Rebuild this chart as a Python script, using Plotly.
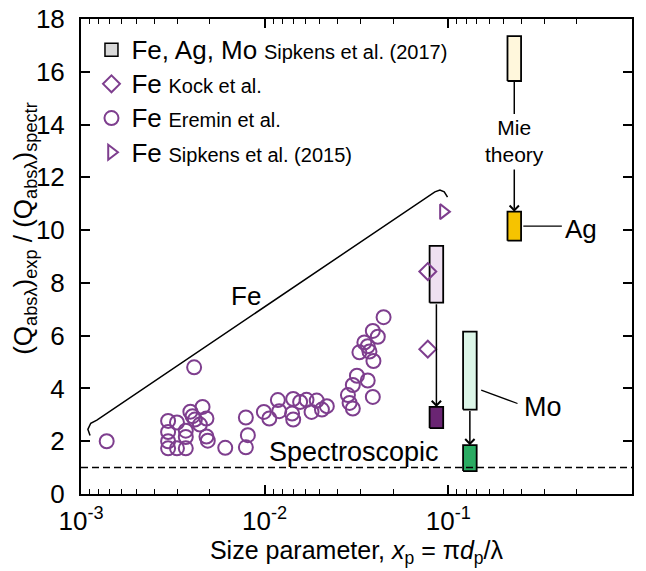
import math
import plotly.graph_objects as go

FONT = "Arial, Liberation Sans, sans-serif"
PURPLE = "#7e3e8e"

# ---------------- data ----------------
# Eremin et al. (Fe), open circles
eremin_x = [0.00138, 0.00413,
            0.00298, 0.00298, 0.00298, 0.00298,
            0.00333, 0.00333,
            0.00372, 0.00372, 0.00372,
            0.00394, 0.00405, 0.00417,
            0.00459, 0.00444,
            0.00482, 0.00482, 0.00490,
            0.0061,
            0.0079, 0.0081, 0.0079,
            0.0099, 0.0106, 0.0118, 0.0120,
            0.0143, 0.0141, 0.0143,
            0.0156, 0.0169, 0.0180, 0.0192,
            0.0205, 0.0218,
            0.0284, 0.0290, 0.0302, 0.0302, 0.0318,
            0.0364, 0.0388, 0.0328, 0.0349, 0.0372,
            0.0364, 0.0388, 0.0413, 0.0391, 0.0444]
eremin_y = [2.00, 4.80,
            2.77, 2.35, 2.00, 1.73,
            2.71, 1.73,
            2.40, 2.16, 1.73,
            3.12, 2.95, 2.82,
            3.30, 2.63,
            2.86, 2.18, 2.02,
            1.75,
            2.90, 2.23, 1.77,
            3.11, 2.86, 3.56, 3.14,
            3.60, 3.05, 2.82,
            3.49, 3.57, 3.11, 3.54,
            3.20, 3.33,
            3.75, 3.45, 3.24, 4.13, 4.48,
            4.30, 3.68, 5.37, 5.74, 5.40,
            5.60, 6.18, 5.96, 5.04, 6.70]

# Kock et al. (Fe), open diamonds
kock_x = [0.0773, 0.0773]
kock_y = [8.43, 5.49]

# Sipkens et al. (2015) (Fe), open triangle
sip15_x = [0.094]
sip15_y = [10.70]

# Sipkens et al. (2017): experimental (light) and Mie theory (dark) ranges
materials = ["Fe", "Mo", "Ag"]
sip17_x = [0.0861, 0.131, 0.2286]
exp_lo = [7.25, 3.20, 15.65]
exp_hi = [9.40, 6.15, 17.35]
mie_lo = [2.50, 0.87, 9.60]
mie_hi = [3.30, 1.85, 10.70]
light_colors = ["#efe0f1", "#dcf6e8", "#fff7dc"]
dark_colors = ["#6a2573", "#2aab62", "#f6c300"]

spectroscopic = 1.0

# Fe bracket (annotation line)
bracket_x = [0.00112, 0.00109, 0.00113, 0.00122, 0.0845, 0.0900, 0.0950, 0.0990]
bracket_y = [2.22, 2.45, 2.68, 2.80, 11.45, 11.52, 11.45, 11.25]

x_tickvals = [0.001, 0.01, 0.1, 1]
x_ticktext = ["10<sup>-3</sup>", "10<sup>-2</sup>", "10<sup>-1</sup>", "10<sup>0</sup>"]
minor_divisors = [9, 8, 7, 6, 5, 4, 3, 2]
y_tickvals = [0, 2, 4, 6, 8, 10, 12, 14, 16, 18]

BIG = "<span style='font-size:26px'>%s</span>"
SMALL = "<span style='font-size:20px'>%s</span>"

# ---------------- figure ----------------
fig = go.Figure()

# legend-only entry for Sipkens 2017
fig.add_trace(go.Scatter(
    x=[None], y=[None], mode="markers",
    marker=dict(symbol="square", size=13, color="#d9d9d9",
                line=dict(color="black", width=1.5)),
    name=BIG % "Fe, Ag, Mo" + " " + SMALL % "Sipkens et al. (2017)"))

HALF = 10 ** 0.037


def box(xc, lo, hi, color):
    xs = [xc / HALF, xc * HALF, xc * HALF, xc / HALF, xc / HALF]
    ys = [lo, lo, hi, hi, lo]
    return go.Scatter(x=xs, y=ys, mode="lines", fill="toself", fillcolor=color,
                      line=dict(color="black", width=1.8), showlegend=False,
                      hoverinfo="skip")


for i in range(len(materials)):
    fig.add_trace(box(sip17_x[i], exp_lo[i], exp_hi[i], light_colors[i]))
    fig.add_trace(box(sip17_x[i], mie_lo[i], mie_hi[i], dark_colors[i]))

# Fe bracket
fig.add_trace(go.Scatter(x=bracket_x, y=bracket_y, mode="lines",
                         line=dict(color="black", width=1.5), showlegend=False,
                         hoverinfo="skip"))

# connector lines
ag_i = materials.index("Ag")
mo_i = materials.index("Mo")
fig.add_trace(go.Scatter(x=[sip17_x[ag_i], sip17_x[ag_i]], y=[exp_lo[ag_i], 14.4],
                         mode="lines", line=dict(color="black", width=1.5),
                         showlegend=False, hoverinfo="skip"))
fig.add_trace(go.Scatter(x=[0.256, 0.415], y=[10.15, 10.15], mode="lines",
                         line=dict(color="black", width=1.3), showlegend=False,
                         hoverinfo="skip"))
fig.add_trace(go.Scatter(x=[0.151, 0.238], y=[3.94, 3.43], mode="lines",
                         line=dict(color="black", width=1.3), showlegend=False,
                         hoverinfo="skip"))

fig.add_trace(go.Scatter(
    x=kock_x, y=kock_y, mode="markers", name=BIG % "Fe" + " " + SMALL % "Kock et al.",
    marker=dict(symbol="diamond-open", size=13, color=PURPLE, line=dict(width=2, color=PURPLE))))
fig.add_trace(go.Scatter(
    x=eremin_x, y=eremin_y, mode="markers", name=BIG % "Fe" + " " + SMALL % "Eremin et al.",
    marker=dict(symbol="circle-open", size=14, color=PURPLE, line=dict(width=2, color=PURPLE))))
fig.add_trace(go.Scatter(
    x=sip15_x, y=sip15_y, mode="markers",
    name=BIG % "Fe" + " " + SMALL % "Sipkens et al. (2015)",
    marker=dict(symbol="triangle-right-open", size=13, color=PURPLE,
                line=dict(width=2, color=PURPLE))))

# spectroscopic dashed line
fig.add_shape(type="line", xref="paper", x0=0, x1=1, yref="y", y0=spectroscopic,
              y1=spectroscopic, line=dict(color="black", width=1.5, dash="7px,4px"))

L = math.log10
ann = []
# arrows
fe_i = materials.index("Fe")
for i, tail in [(fe_i, exp_lo[fe_i]), (mo_i, exp_lo[mo_i]), (ag_i, 12.35)]:
    ann.append(dict(x=L(sip17_x[i]), y=mie_hi[i], ax=L(sip17_x[i]), ay=tail,
                    xref="x", yref="y", axref="x", ayref="y", showarrow=True,
                    arrowhead=4, arrowsize=1.2, arrowwidth=1.5, arrowcolor="black",
                    standoff=0, text=""))
texts = [("Fe", 0.0079, 7.5, 26), ("Spectroscopic", 0.0305, 1.6, 27),
         ("Mie<br>theory", 0.2286, 13.36, 21), ("Ag", 0.526, 10.05, 26),
         ("Mo", 0.328, 3.3, 27)]
for t, x, y, s in texts:
    ann.append(dict(x=L(x), y=y, xref="x", yref="y", text=t, showarrow=False,
                    font=dict(size=s, color="black", family=FONT)))

# y-axis title as rotated annotation
ann.append(dict(x=-0.102, y=0.56, xref="paper", yref="paper", textangle=-90,
                xanchor="center", yanchor="middle",
                text="(Q<sub>absλ</sub>)<sub>exp</sub> / (Q<sub>absλ</sub>)<sub>spectr</sub>",
                showarrow=False, font=dict(size=26, color="black", family=FONT)))

minor_vals = []
for d in (-3, -2, -1):
    for m in minor_divisors:
        minor_vals.append(10 ** (d + 1) / m)

fig.update_layout(
    width=646, height=571,
    margin=dict(l=81, r=14, t=19, b=77, autoexpand=False),
    paper_bgcolor="white", plot_bgcolor="white",
    font=dict(family=FONT, size=26, color="black"),
    annotations=ann,
    showlegend=True,
    legend=dict(x=0.019, y=0.982, xanchor="left", yanchor="top",
                bgcolor="rgba(0,0,0,0)", font=dict(size=24, family=FONT),
                tracegroupgap=0),
    xaxis=dict(type="log", range=[-3, 0], tickvals=x_tickvals, ticktext=x_ticktext,
               ticks="inside", ticklen=9, tickwidth=1.5, tickcolor="black",
               showline=True, linecolor="black", linewidth=2, mirror="ticks",
               showgrid=False, zeroline=False, ticklabelstandoff=3,
               tickfont=dict(size=26), automargin=False,
               minor=dict(tickvals=minor_vals, ticks="inside", ticklen=5,
                          tickwidth=1.3, tickcolor="black", showgrid=False),
               title=dict(text="Size parameter, <i>x</i><sub>p</sub> = π<i>d</i><sub>p</sub>/λ",
                          font=dict(size=25), standoff=2)),
    yaxis=dict(range=[0, 18], tickvals=y_tickvals, ticks="inside", ticklen=9,
               tickwidth=1.5, tickcolor="black", showline=True, linecolor="black",
               linewidth=2, mirror="ticks", showgrid=False, zeroline=False,
               tickfont=dict(size=26), ticklabelstandoff=9, automargin=False),
)

fig.write_html("out.html", config={"displayModeBar": False},
               post_script="document.body.style.margin='0';")
